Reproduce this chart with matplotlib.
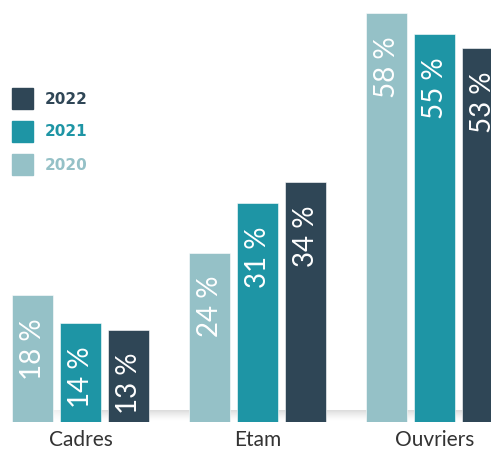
import numpy as np
import matplotlib
matplotlib.use("Agg")
import matplotlib.pyplot as plt
from matplotlib.patches import Rectangle

categories = ['Cadres', 'Etam', 'Ouvriers']
years = ['2020', '2021', '2022']
v2020 = [18, 24, 58]
v2021 = [14, 31, 55]
v2022 = [13, 34, 53]
colors = ['#95c1c7', '#1e95a5', '#2f4656']

W, H = 491, 450
fig = plt.figure(figsize=(W/100, H/100), dpi=100)
ax = fig.add_axes([0, 28/H, 1, 422/H])

x = np.arange(len(categories))
w = 0.232
step = 0.271
ymax = 59.86
px = 422 / ymax  # pixels per unit

# soft shadow along the base
g = np.zeros((20, 200, 4))
g[..., :3] = 0.55
va = np.linspace(0, 0.45, 20)[::-1, None] ** 1.5
ha = np.clip(np.linspace(0, 6, 200), 0, 1)[None, :]
g[..., 3] = va * ha
ax.imshow(g, extent=(-0.35, 2.4, 0, 12/px), aspect='auto', zorder=1)

for i, (vals, c, yr) in enumerate(zip([v2020, v2021, v2022], colors, years)):
    pos = x + (i - 1) * step
    ax.bar(pos, vals, w, color=c, label=yr, zorder=2,
           edgecolor='white', linewidth=0.4)
    for p, v in zip(pos, vals):
        ytop = max(v - 23/px, 70/px)
        ax.text(p, ytop, f'{v} %', rotation=90, ha='center', va='top',
                color='white', fontsize=20, family='Lato', fontweight='normal',
                zorder=3)

ax.set_xlim(-0.455, 2.319)
ax.set_ylim(0, ymax)
ax.set_xticks(x, categories, fontsize=15, color='#333333', family='Lato')
ax.tick_params(axis='x', length=0, pad=6)
ax.set_yticks([])
for s in ax.spines.values():
    s.set_visible(False)

# legend drawn by hand (2022 on top)
for k, (yr, c) in enumerate(zip(years[::-1], colors[::-1])):
    top = 88 + k * 33
    fig.add_artist(Rectangle((12/W, 1 - (top + 21)/H), 21/W, 21/H,
                             transform=fig.transFigure, color=c))
    fig.text(45/W, 1 - (top + 11)/H, yr, color=c, ha='left', va='center',
             fontsize=11, fontweight='bold', family='DejaVu Sans')

fig.savefig('out.png', dpi=100)
